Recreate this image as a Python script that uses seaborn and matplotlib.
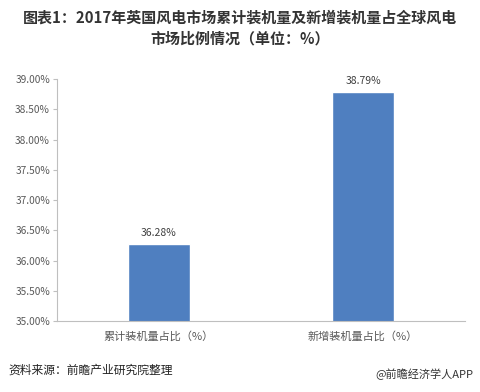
import pandas as pd
import matplotlib.pyplot as plt
import seaborn as sns
from matplotlib.ticker import FuncFormatter

# --- data ---
categories = ["累计装机量占比（%）", "新增装机量占比（%）"]
shares = [36.28, 38.79]
y_ticks = [35.0, 35.5, 36.0, 36.5, 37.0, 37.5, 38.0, 38.5, 39.0]

df = pd.DataFrame({"category": categories, "share": shares})

sns.set_style("white")
plt.rcParams['font.family'] = ['Noto Sans CJK SC', 'DejaVu Sans']

fig = plt.figure(figsize=(4.81, 3.92), dpi=100)
ax = fig.add_axes([0.1185, 0.181, 0.8485, 0.617])

sns.barplot(data=df, x="category", y="share", color="#4F7FC0", width=0.30,
            saturation=1, ax=ax)

ax.set_ylim(35, 39)
ax.set_yticks(y_ticks)
ax.yaxis.set_major_formatter(FuncFormatter(lambda v, p: f"{v:.2f}%"))
ax.set_xlabel("")
ax.set_ylabel("")

for i, v in enumerate(shares):
    ax.text(i, v + 0.1, f"{v:.2f}%", ha="center", va="bottom", fontsize=7.5, color="#404040")

for s in ["top", "right"]:
    ax.spines[s].set_visible(False)
for s in ["left", "bottom"]:
    ax.spines[s].set_color("#BFBFBF")
    ax.spines[s].set_linewidth(0.8)

ax.tick_params(axis="y", left=True, length=3, color="#BFBFBF", labelsize=7.3, labelcolor="#595959", pad=2)
ax.tick_params(axis="x", bottom=False, labelsize=8, labelcolor="#595959", pad=4)

fig.text(0.5, 0.975, "图表1：2017年英国风电市场累计装机量及新增装机量占全球风电\n市场比例情况（单位：%）",
         ha="center", va="top", fontsize=10.8, fontweight="bold", color="#333333", linespacing=1.35)
fig.text(0.017, 0.056, "资料来源：前瞻产业研究院整理", ha="left", va="center",
         fontsize=8.5, style="italic", color="#222222")
fig.text(0.985, 0.045, "@前瞻经济学人APP", ha="right", va="center", fontsize=8, color="#333333")

fig.savefig("out.png", dpi=100)
